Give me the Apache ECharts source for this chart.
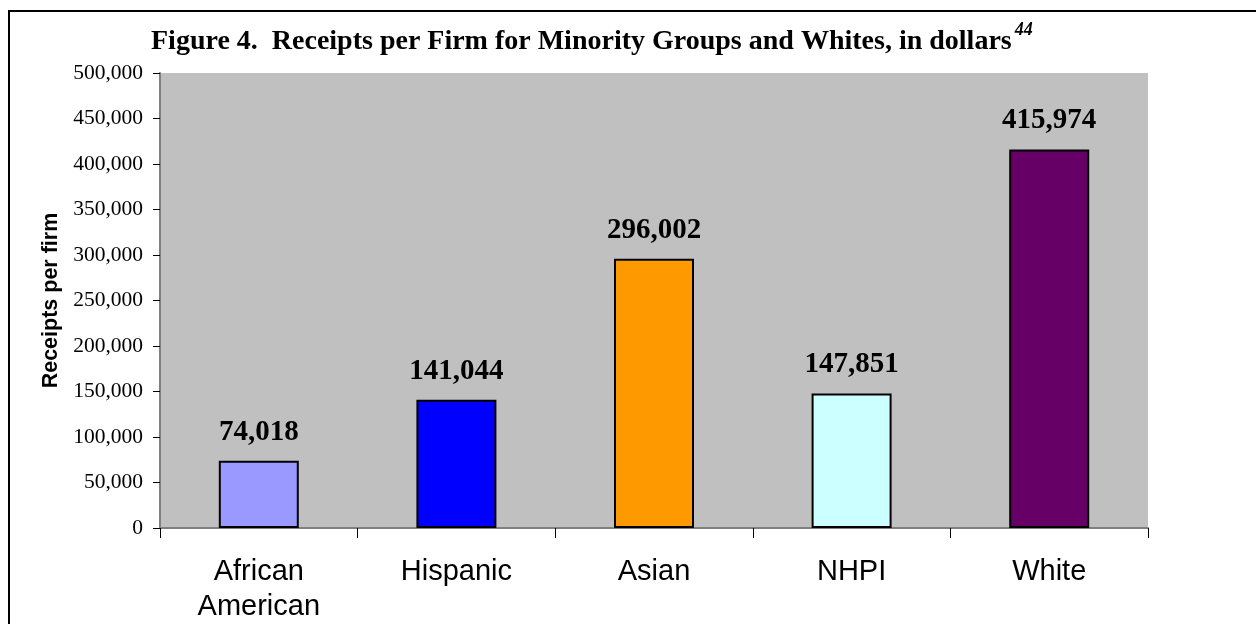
<!DOCTYPE html>
<html>
<head>
<meta charset="utf-8">
<script src="https://cdn.jsdelivr.net/npm/echarts@6/dist/echarts.min.js"></script>
<style>
html,body{margin:0;padding:0;background:#fff;}
#chart{width:1256px;height:624px;}
</style>
</head>
<body>
<div id="chart"></div>
<script>
var categories = ['African\nAmerican', 'Hispanic', 'Asian', 'NHPI', 'White'];
var values = [74018, 141044, 296002, 147851, 415974];
var barColors = ['#9999FF', '#0000FF', '#FF9900', '#CCFFFF', '#660066'];
var titleText = 'Figure 4.  Receipts per Firm for Minority Groups and Whites, in dollars';
var footnote = '44';
var yAxisName = 'Receipts per firm';

var chart = echarts.init(document.getElementById('chart'));
var serif = '"Liberation Serif", "Times New Roman", serif';
var sans = '"Liberation Sans", Arial, sans-serif';

chart.setOption({
  animation: false,
  backgroundColor: '#ffffff',
  graphic: [{
    type: 'rect',
    shape: { x: 9, y: 11, width: 1400, height: 800 },
    style: { fill: 'none', stroke: '#000', lineWidth: 2 },
    silent: true
  }],
  title: {
    text: '{a|' + titleText + '}{b|' + footnote + '}',
    left: 151,
    top: 21,
    padding: 0,
    textStyle: {
      rich: {
        a: { fontFamily: serif, fontWeight: 'bold', fontSize: 28, lineHeight: 42, color: '#000' },
        b: { fontFamily: serif, fontStyle: 'italic', fontSize: 18, lineHeight: 18, color: '#000', verticalAlign: 'top', padding: [0, 0, 0, 3] }
      }
    }
  },
  grid: {
    left: 160, right: 108, top: 73, bottom: 96,
    show: true, backgroundColor: '#C0C0C0', borderWidth: 0
  },
  xAxis: {
    type: 'category',
    data: categories,
    axisLine: { show: true, lineStyle: { color: '#808080', width: 2 } },
    axisTick: { show: true, alignWithLabel: false, length: 10, lineStyle: { color: '#000', width: 1 } },
    axisLabel: { fontFamily: sans, fontSize: 29, color: '#000', margin: 26, lineHeight: 35 },
    splitLine: { show: false }
  },
  yAxis: {
    type: 'value',
    min: 0, max: 500000, interval: 50000,
    name: yAxisName,
    nameLocation: 'middle',
    nameGap: 98,
    nameTextStyle: { fontFamily: sans, fontWeight: 'bold', fontSize: 21.5, color: '#000' },
    axisLine: { show: true, lineStyle: { color: '#808080', width: 2 } },
    axisTick: { show: true, inside: false, length: 7, lineStyle: { color: '#000', width: 1 } },
    axisLabel: {
      fontFamily: serif, fontSize: 21.5, color: '#000', margin: 17,
      formatter: function (v) { return v.toLocaleString('en-US'); }
    },
    splitLine: { show: false }
  },
  series: [{
    type: 'bar',
    barWidth: 80,
    data: values.map(function (v, i) {
      return { value: v, itemStyle: { color: barColors[i] } };
    }),
    itemStyle: { borderColor: '#000', borderWidth: 2 },
    label: {
      show: true, position: 'top', distance: 14,
      fontFamily: serif, fontWeight: 'bold', fontSize: 29, color: '#000',
      formatter: function (p) { return p.value.toLocaleString('en-US'); }
    }
  }]
});
</script>
</body>
</html>
